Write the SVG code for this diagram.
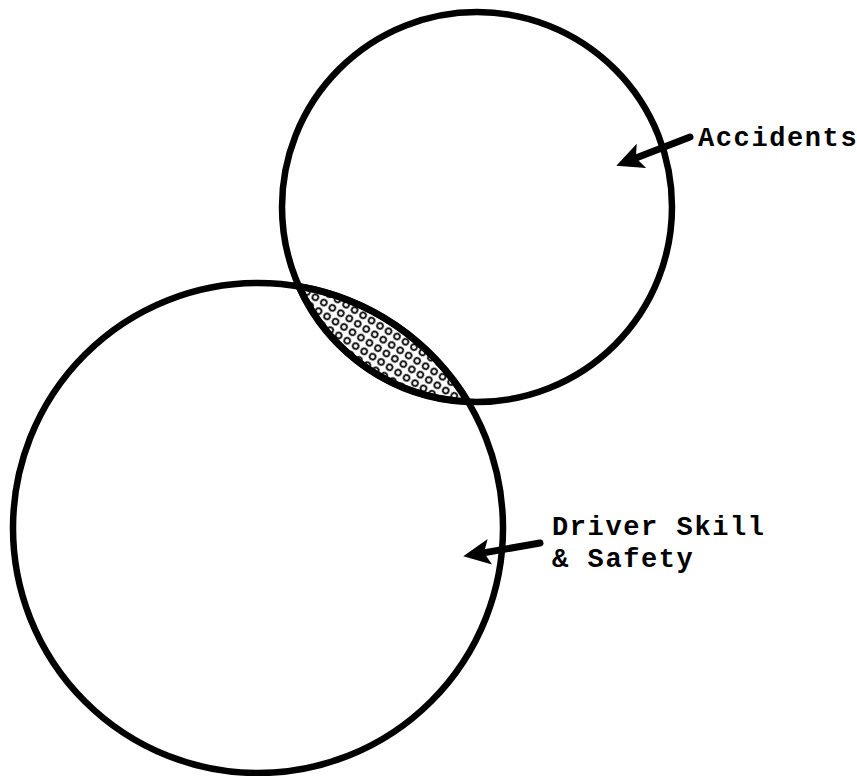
<svg xmlns="http://www.w3.org/2000/svg" width="857" height="776" viewBox="0 0 857 776">
  <style>
    .ring { fill: none; stroke: #000; stroke-width: 6.5; }
    .lbl { font-family: "Liberation Mono", "DejaVu Sans Mono", monospace; font-size: 27px; font-weight: bold; letter-spacing: 1.6px; fill: #000; }
    .arrow { stroke: #000; stroke-width: 7; stroke-linecap: round; fill: none; }
  </style>
  <defs>
    <pattern id="dots" patternUnits="userSpaceOnUse" width="10" height="10" patternTransform="rotate(32)">
      <circle cx="5" cy="5" r="2.9" fill="none" stroke="#000" stroke-width="1.7"/>
    </pattern>
    <marker id="head" markerUnits="userSpaceOnUse" markerWidth="30" markerHeight="30" viewBox="0 0 30 30" refX="10" refY="15" orient="auto">
      <path d="M29,15 L2,2 L8,15 L2,28 Z" fill="#000"/>
    </marker>
  </defs>
  <rect width="857" height="776" fill="#fff"/>
  <g id="overlap">
    <path d="M298.9,286.4 A195,195 0 0 0 467.9,401.8 A245,245 0 0 0 298.9,286.4 Z" fill="url(#dots)" stroke="#000" stroke-width="7"/>
  </g>
  <g id="accidents">
    <circle class="ring" cx="477" cy="207" r="195"/>
    <text class="lbl" x="698" y="146">Accidents</text>
  </g>
  <g id="driver-skill">
    <circle class="ring" cx="258" cy="528" r="245"/>
    <text class="lbl" x="552" y="535">Driver Skill</text>
    <text class="lbl" x="552" y="567">&amp; Safety</text>
  </g>
  <g id="connectors">
    <line class="arrow" x1="690" y1="137" x2="634" y2="158.8" marker-end="url(#head)"/>
    <line class="arrow" x1="540" y1="543" x2="482" y2="553.1" marker-end="url(#head)"/>
  </g>
</svg>
